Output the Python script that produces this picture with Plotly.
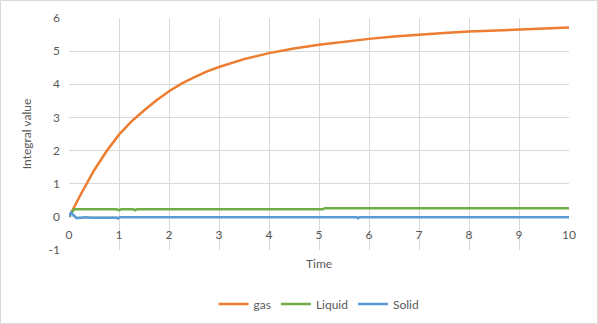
import plotly.graph_objects as go

# ---- data ----
gas_t = [0, 0.1, 0.25, 0.5, 0.75, 1.0, 1.25, 1.5, 1.75, 2.0, 2.25, 2.5, 2.75, 3.0, 3.5, 4.0,
         4.5, 5.0, 5.5, 6.0, 6.5, 7.0, 7.5, 8.0, 8.5, 9.0, 9.5, 10.0]
gas_v = [0.0, 0.29, 0.72, 1.40, 1.98, 2.48, 2.88, 3.21, 3.52, 3.79, 4.02, 4.21, 4.38, 4.52, 4.76, 4.94,
         5.08, 5.19, 5.29, 5.37, 5.44, 5.50, 5.55, 5.59, 5.62, 5.65, 5.68, 5.71]

liquid_t = [0, 0.1, 0.95, 1.0, 1.05, 1.28, 1.32, 1.36, 5.08, 5.12, 10]
liquid_v = [0.0, 0.23, 0.23, 0.20, 0.23, 0.23, 0.20, 0.23, 0.23, 0.26, 0.26]

solid_t = [0, 0.04, 0.15, 0.25, 0.34, 0.42, 0.5, 0.54, 0.6, 0.7, 0.74, 0.8, 0.95,
           0.98, 1.02, 5.75, 5.78, 5.81, 10]
solid_v = [0.0, 0.13, -0.04, -0.03, -0.01, -0.03, -0.03, -0.01, -0.03, -0.03, -0.01, -0.03, -0.03,
           -0.05, -0.01, -0.01, -0.04, -0.01, -0.01]

x_ticks = list(range(0, 11))
y_ticks = list(range(-1, 7))
y_tick_text = ["-1", "0", "1", "2", "3", "4", "5", "6"]

FONT = "Lato"
TXT = "#595959"
GRID = "#D9D9D9"

fig = go.Figure()
fig.add_trace(go.Scatter(x=gas_t, y=gas_v, name="gas", mode="lines",
                         line=dict(color="#ED7D31", width=2.5)))
fig.add_trace(go.Scatter(x=liquid_t, y=liquid_v, name="Liquid", mode="lines",
                         line=dict(color="#70AD47", width=2.5)))
fig.add_trace(go.Scatter(x=solid_t, y=solid_v, name="Solid", mode="lines",
                         line=dict(color="#5B9BD5", width=2.5)))

W, H = 598, 324
L, R, T, B = 69, 29, 18, 74
pw, ph = W - L - R, H - T - B

fig.update_layout(
    width=W, height=H,
    margin=dict(l=L, r=R, t=T, b=B, autoexpand=False),
    paper_bgcolor="white", plot_bgcolor="white",
    font=dict(family=FONT, size=12, color=TXT),
    showlegend=True,
    legend=dict(orientation="h", x=0.5, xanchor="center", y=-54/ph, yanchor="middle",
                font=dict(family=FONT, size=12, color=TXT), bgcolor="rgba(0,0,0,0)"),
    xaxis=dict(range=[0, 10], tickvals=x_ticks, showgrid=True, gridcolor=GRID, gridwidth=1,
               zeroline=False, showline=False, ticks="", anchor="free", position=1/7,
               ticklabelstandoff=9, tickfont=dict(family=FONT, size=12, color=TXT)),
    yaxis=dict(range=[-1, 6], tickvals=y_ticks, ticktext=y_tick_text, showgrid=True,
               gridcolor=GRID, gridwidth=1,
               zeroline=False, showline=False, ticks="", ticklabelstandoff=8,
               tickfont=dict(family=FONT, size=12, color=TXT),
               title=dict(text="Integral value", font=dict(family=FONT, size=12, color=TXT),
                          standoff=14)),
    annotations=[dict(text="Time", xref="paper", yref="paper", x=0.5, y=-13/ph,
                      xanchor="center", yanchor="middle", showarrow=False,
                      font=dict(family=FONT, size=12, color=TXT))],
    shapes=[dict(type="rect", xref="paper", yref="paper",
                 x0=-(L - 0.5)/pw, x1=1 + (R - 0.5)/pw,
                 y0=-(B - 0.5)/ph, y1=1 + (T - 0.5)/ph,
                 line=dict(color=GRID, width=1), fillcolor="rgba(0,0,0,0)", layer="below")],
)

fig.write_html("out.html")
